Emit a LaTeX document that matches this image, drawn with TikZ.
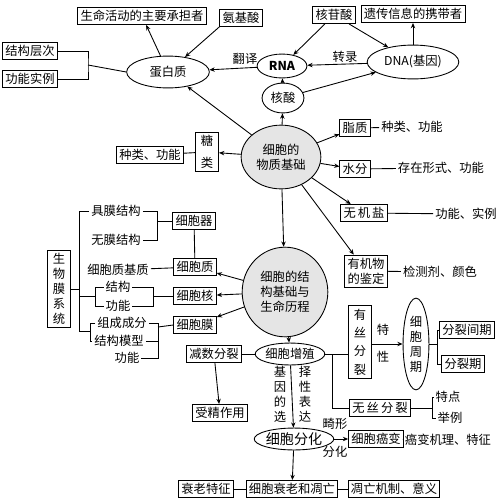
\documentclass[tikz,border=0pt]{standalone}
\usepackage{fontspec}
\setmainfont{Noto Sans CJK SC}
\usetikzlibrary{shapes.geometric,arrows.meta}
\def\px{0.567pt}
\begin{document}
\begin{tikzpicture}[x=0.02cm,y=-0.02cm,font=\fontsize{7}{8.5}\selectfont,
  box/.style={draw,rectangle,inner sep=1.6pt},
  vbox/.style={draw,rectangle,inner sep=1.6pt,text width=1em,align=center},
  ell/.style={draw,ellipse,inner sep=0pt},
  big/.style={draw,ellipse,fill=gray!20,inner sep=0pt,align=center},
  txt/.style={inner sep=1pt},
  arr/.style={-{Stealth[length=3pt,width=2.5pt]}},
  line width=0.5pt]
\useasboundingbox (0,0) rectangle (500,504);

% material basis
\node[big,minimum width=80*\px,minimum height=64*\px] (mat) at (281,157) {细胞的\\物质基础};
\node[box] (life) at (142,16) {生命活动的主要承担者};
\node[box] (amino) at (241,18) {氨基酸};
\node[box] (layer) at (30,51) {结构层次};
\node[box] (func) at (30,79) {功能实例};
\node[ell,minimum width=83*\px,minimum height=32*\px] (prot) at (168,72) {蛋白质};
\node[box] (nuct) at (334,15) {核苷酸};
\node[box] (carr) at (413,14) {遗传信息的携带者};
\node[ell,minimum width=50*\px,minimum height=24*\px,font=\fontsize{7}{8.5}\selectfont\bfseries] (rna) at (282,66) {RNA};
\node[ell,minimum width=92*\px,minimum height=34*\px] (dna) at (413,62) {DNA(基因)};
\node[ell,minimum width=42*\px,minimum height=30*\px] (nacid) at (283,98) {核酸};
\node[txt] (trans) at (245,59) {翻译};
\node[txt] (tscr) at (345,57) {转录};
\node[vbox] (sugar) at (207,152) {糖\\[4pt]类};
\node[box] (sugk) at (150,155) {种类、功能};
\node[box] (lipid) at (355,128) {脂质};
\node[txt] (lipk) at (412,127) {种类、功能};
\node[box] (water) at (355,169) {水分};
\node[txt] (watk) at (441,168) {存在形式、功能};
\node[box] (salt) at (364,213) {无\,机\,盐};
\node[txt] (saltk) at (466,214) {功能、实例};
\node[box,align=center] (ident) at (366,271) {有机物\\的鉴定};
\node[txt] (identk) at (440,272) {检测剂、颜色};

\draw[arr] (prot) -- (life);
\draw[arr] (amino.south west) -- (prot);
\draw (layer.east) -| (88,65) coordinate (pj) |- (func.east);
\draw (pj) -- (prot.west);
\draw[arr] (rna) -- (prot);
\draw[arr] (nuct) -- (rna);
\draw[arr] (nuct) -- (dna);
\draw[arr] (dna) -- (carr);
\draw[arr] (dna) -- (rna);
\draw[arr] (nacid) -- (rna);
\draw[arr] (nacid) -- (dna);
\draw[arr] (mat) -- (nacid);
\draw[arr] (mat) -- (prot);
\draw[arr] (mat) -- (sugar);
\draw (sugar) -- (sugk);
\draw[arr] (mat) -- (lipid);
\draw[arr] (mat) -- (water);
\draw[arr] (mat) -- (salt);
\draw[arr] (mat) -- (ident);
\draw (lipid) -- (lipk);
\draw (water) -- (watk);
\draw (salt) -- (saltk);
\draw (ident) -- (identk);

% structural basis
\node[big,minimum width=86*\px,minimum height=90*\px] (str) at (285,292) {细胞的结\\构基础与\\生命历程};
\draw[arr] (mat) -- (str);
\node[box] (organ) at (194,221) {细胞器};
\node[box] (cyto) at (195,267) {细胞质};
\node[box] (nucl) at (195,296) {细胞核};
\node[box] (memb) at (195,325) {细胞膜};
\node[vbox] (biom) at (59,289) {生\\物\\膜\\系\\统};
\node[txt] (withm) at (116,211) {具膜结构};
\node[txt] (nom) at (116,240) {无膜结构};
\node[txt] (matrix) at (118,270) {细胞质基质};
\node[txt] (nstr) at (118,287) {结构};
\node[txt] (nfun) at (118,306) {功能};
\node[txt] (comp) at (122,323) {组成成分};
\node[txt] (model) at (119,341) {结构模型};
\node[txt] (mfun) at (127,358) {功能};
\draw[arr] (str) -- (cyto);
\draw[arr] (str) -- (nucl);
\draw[arr] (str) -- (memb);
\draw (organ) -- (cyto);
\draw (withm.east) -| (157,240) -- (nom.east);
\draw (157,221) -- (organ.west);
\draw (matrix) -- (cyto);
\draw (nstr.east) -| (153,306) -- (nfun.east);
\draw (153,296) -- (nucl.west);
\draw (comp.east) -| (158,358) -- (mfun.east);
\draw (model.east) -- (158,341);
\draw (158,327) -- (memb.west);
\draw (withm.west) -| (79,331);
\draw (biom.east) -- (79,289);
\draw (nstr.west) -| (95,306) -- (nfun.west);
\draw (79,296) -- (95,296);
\draw (comp.west) -| (90,341) -- (model.west);
\draw (79,331) -- (90,331);

% proliferation
\node[ell,minimum width=60*\px,minimum height=22*\px] (prol) at (290,354) {细胞增殖};
\draw[arr] (str) -- (prol);
\node[box] (meio) at (214,354) {减数分裂};
\node[box] (fert) at (220,413) {受精作用};
\draw (prol) -- (meio);
\draw[arr] (meio) -- (fert);
\node[vbox] (mito) at (360,342) {有\\[2pt]丝\\[2pt]分\\[2pt]裂};
\node[box] (amito) at (380,408) {无\,丝\,分\,裂};
\node[txt] (amk1) at (448,397) {特点};
\node[txt] (amk2) at (450,418) {举例};
\draw (amk1.west) -| (432,418) -- (amk2.west);
\draw (amito) -- (432,408);
\draw (prol) -- (mito.west |- prol);
\draw (332,354) |- (amito);
\node[ell,minimum width=26*\px,minimum height=92*\px,text width=1em,align=center] (cycle) at (416,344) {细\\胞\\周\\期};
\node[txt] (te) at (383,330) {特};
\node[txt] (xing) at (383,357) {性};
\draw[arr] (mito.east |- cycle) -- (cycle);
\node[box] (inter) at (467,330) {分裂间期};
\node[box] (phase) at (463,364) {分裂期};
\draw (inter.west) -| (437,364) -- (phase.west);
\draw (cycle) -- (437,344);
\node[txt,text width=1em,align=center] (gene1) at (280,394) {基\\因\\的\\选};
\node[txt,text width=1em,align=center] (gene2) at (305,394) {择\\性\\表\\达};

% differentiation
\node[ell,minimum width=62*\px,minimum height=22*\px,font=\fontsize{8}{9}\selectfont] (diff) at (294,439) {细胞分化};
\draw[arr] (prol) -- (diff);
\node[box] (canc) at (376,439) {细胞癌变};
\node[txt] (ab1) at (335,424) {畸形};
\node[txt] (ab2) at (335,452) {分化};
\draw[arr] (diff) -- (canc);
\node[txt] (canck) at (448,440) {癌变机理、特征};
\draw (canc) -- (canck);
\node[box] (aging) at (292,489) {细胞衰老和凋亡};
\node[box] (agek) at (206,489) {衰老特征};
\node[box] (apop) at (394,489) {凋亡机制、意义};
\draw[arr] (diff) -- (aging);
\draw (agek) -- (aging);
\draw (aging) -- (apop);
\end{tikzpicture}
\end{document}
